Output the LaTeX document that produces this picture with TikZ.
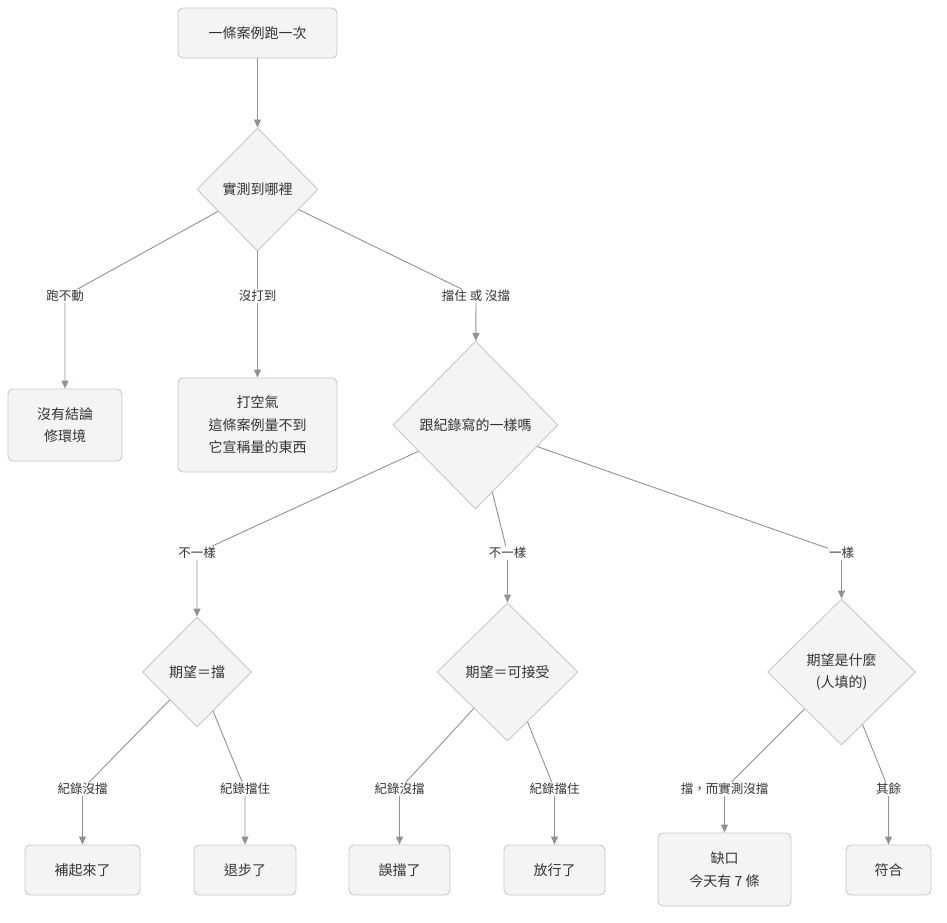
\documentclass[tikz,border=0pt]{standalone}
\usepackage{fontspec}
\setmainfont{Noto Sans CJK TC}
\usetikzlibrary{shapes.geometric,arrows.meta}
\definecolor{nodefill}{HTML}{F4F4F4}
\definecolor{nodeline}{HTML}{C8C8C8}
\definecolor{edgeline}{HTML}{8E9299}
\definecolor{txt}{HTML}{333333}
\tikzset{
  base/.style={draw=nodeline, fill=nodefill, line width=0.9pt, text=txt, inner sep=0pt,
    font=\fontsize{14}{22.5}\selectfont, align=center},
  box/.style={base, rectangle, rounded corners=5pt},
  dia/.style={base, diamond},
  elabel/.style={fill=white, text=txt, inner sep=1.5pt, font=\fontsize{12.5}{15}\selectfont},
  conn/.style={draw=edgeline, line width=0.9pt, -{Triangle[length=8pt,width=7pt]}}
}
\begin{document}
\begin{tikzpicture}[x=1pt,y=-1pt]
\useasboundingbox[fill=white] (0,0) rectangle (947,922);
% nodes
\node[box, minimum width=159pt, minimum height=50pt] (A) at (257.5,33) {一條案例跑一次};
\node[dia, minimum width=121pt, minimum height=123pt] (B) at (257.5,189.5) {實測到哪裡};
\node[box, minimum width=114pt, minimum height=72pt] (C) at (65,425) {沒有結論\\修環境};
\node[box, minimum width=159pt, minimum height=94pt] (D) at (257.5,425) {打空氣\\這條案例量不到\\它宣稱量的東西};
\node[dia, minimum width=165pt, minimum height=168pt] (E) at (475.5,425) {跟紀錄寫的一樣嗎};
\node[dia, minimum width=109pt, minimum height=110pt] (F) at (197,672) {期望＝擋};
\node[dia, minimum width=141pt, minimum height=138pt] (G) at (507.5,672) {期望＝可接受};
\node[dia, minimum width=148pt, minimum height=146pt] (H) at (841.5,672) {期望是什麼\\(人填的)};
\node[box, minimum width=115pt, minimum height=50pt] (L1) at (82.5,870) {補起來了};
\node[box, minimum width=102pt, minimum height=50pt] (L2) at (245,870) {退步了};
\node[box, minimum width=101pt, minimum height=50pt] (L3) at (399.5,870) {誤擋了};
\node[box, minimum width=101pt, minimum height=50pt] (L4) at (554.5,870) {放行了};
\node[box, minimum width=133pt, minimum height=73pt] (L5) at (724.5,869.5) {缺口\\今天有 7 條};
\node[box, minimum width=85pt, minimum height=50pt] (L6) at (888.5,870) {符合};
% label anchor coordinates
\coordinate (eB1) at (65,296);
\coordinate (eB2) at (257.5,296);
\coordinate (eB3) at (476,296);
\coordinate (eE1) at (197,553);
\coordinate (eE2) at (507.5,553);
\coordinate (eE3) at (841.5,553);
\coordinate (eF1) at (82.5,789);
\coordinate (eF2) at (245,789);
\coordinate (eG1) at (399.5,789);
\coordinate (eG2) at (554.5,789);
\coordinate (eH1) at (724.5,789);
\coordinate (eH2) at (888.5,789);
% connectors
\draw[conn] (A) -- (B);
\draw[conn] (B) -- (eB1) -- (C);
\draw[conn] (B) -- (eB2) -- (D);
\draw[conn] (B) -- (eB3) -- (E);
\draw[conn] (E) -- (eE1) -- (F);
\draw[conn] (E) -- (eE2) -- (G);
\draw[conn] (E) -- (eE3) -- (H);
\draw[conn] (F) -- (eF1) -- (L1);
\draw[conn] (F) -- (eF2) -- (L2);
\draw[conn] (G) -- (eG1) -- (L3);
\draw[conn] (G) -- (eG2) -- (L4);
\draw[conn] (H) -- (eH1) -- (L5);
\draw[conn] (H) -- (eH2) -- (L6);
% edge labels
\node[elabel] (tB1) at (eB1) {跑不動};
\node[elabel] (tB2) at (eB2) {沒打到};
\node[elabel] (tB3) at (eB3) {擋住 或 沒擋};
\node[elabel] (tE1) at (eE1) {不一樣};
\node[elabel] (tE2) at (eE2) {不一樣};
\node[elabel] (tE3) at (eE3) {一樣};
\node[elabel] (tF1) at (eF1) {紀錄沒擋};
\node[elabel] (tF2) at (eF2) {紀錄擋住};
\node[elabel] (tG1) at (eG1) {紀錄沒擋};
\node[elabel] (tG2) at (eG2) {紀錄擋住};
\node[elabel] (tH1) at (eH1) {擋，而實測沒擋};
\node[elabel] (tH2) at (eH2) {其餘};
\end{tikzpicture}
\end{document}
